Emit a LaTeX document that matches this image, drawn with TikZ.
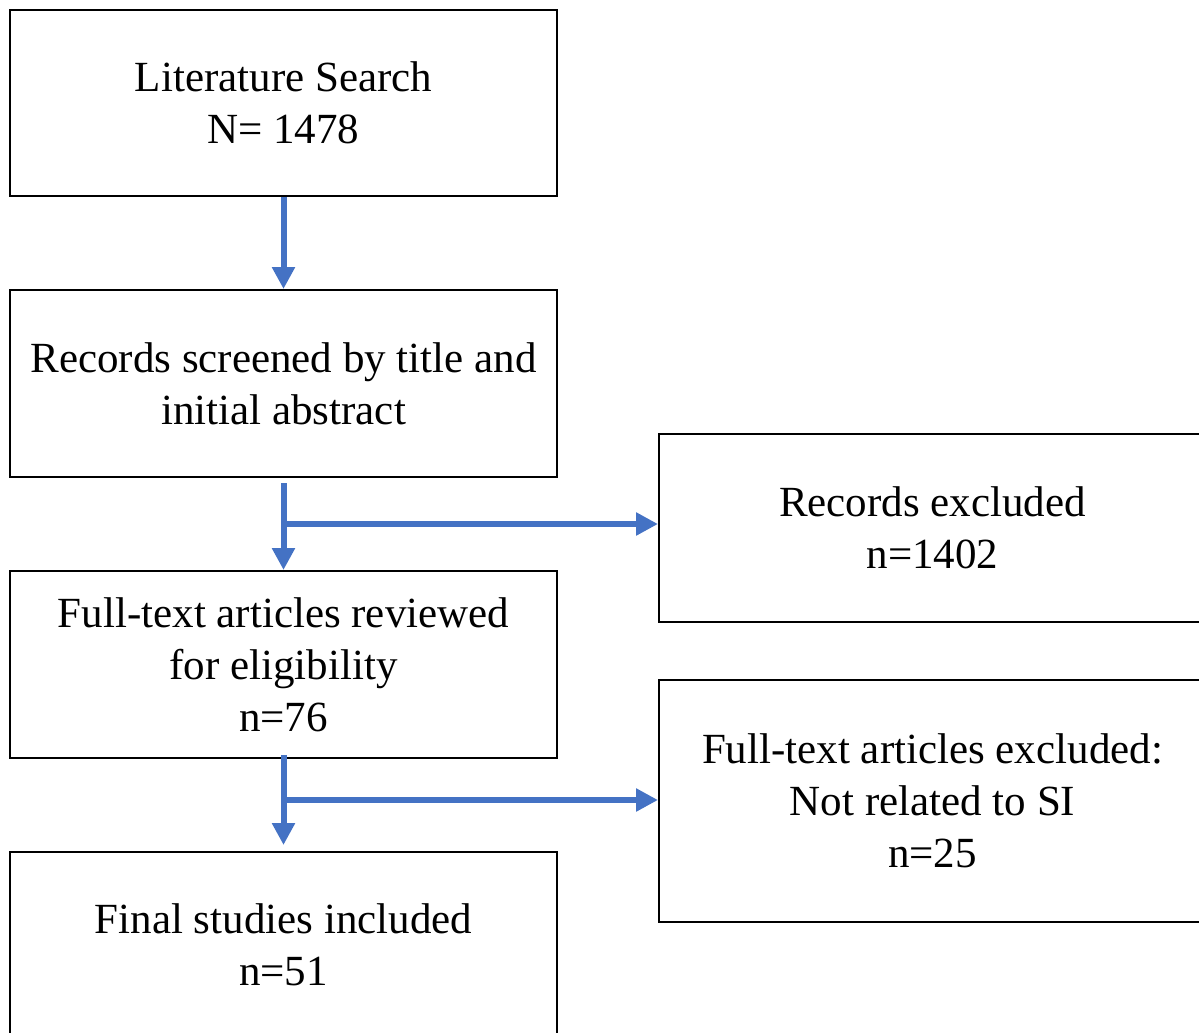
\documentclass[tikz,border=0pt]{standalone}
\usepackage{fontspec}
\setmainfont{Liberation Serif}
\usetikzlibrary{arrows.meta,calc}
\definecolor{flowblue}{HTML}{4472C4}
\tikzset{
  boxnode/.style={draw=black, line width=2pt, minimum width=547pt, inner sep=0pt, align=center,
    font=\fontsize{43}{52}\selectfont},
  flowarrow/.style={draw=flowblue, line width=6pt, -{Triangle[width=22pt,length=22pt]}},
  flowline/.style={draw=flowblue, line width=6pt}
}
\begin{document}
\begin{tikzpicture}[x=1pt,y=-1pt]
\useasboundingbox (0,0) rectangle (1199,1033);
\clip (0,0) rectangle (1199,1033);
\node[boxnode, minimum height=186pt] (b1) at (283.5,103) {Literature Search\\N= 1478};
\node[boxnode, minimum height=187pt] (b2) at (283.5,383.5) {Records screened by title and\\initial abstract};
\node[boxnode, minimum height=187pt] (b3) at (283.5,664.5) {Full-text articles reviewed\\for eligibility\\n=76};
\node[boxnode, minimum height=186pt] (b4) at (283.5,945) {Final studies included\\n=51};
\node[boxnode, minimum height=188pt] (r1) at (932.5,528) {Records excluded\\n=1402};
\node[boxnode, minimum height=242pt] (r2) at (932.5,801) {Full-text articles excluded:\\Not related to SI\\n=25};
\draw[flowarrow] (b1.south) -- (b2.north);
\coordinate (s2) at ($(b2.south)+(0,5)$);
\coordinate (j2) at (283.5,524);
\draw[flowarrow] (s2) -- (b3.north);
\draw[flowarrow] (j2) -- (j2 -| r1.west);
\coordinate (s3) at ($(b3.south)+(0,-4)$);
\coordinate (j3) at (283.5,800);
\draw[flowarrow] (s3) -- ($(b4.north)+(0,-6)$);
\draw[flowarrow] (j3) -- (j3 -| r2.west);
\end{tikzpicture}
\end{document}
